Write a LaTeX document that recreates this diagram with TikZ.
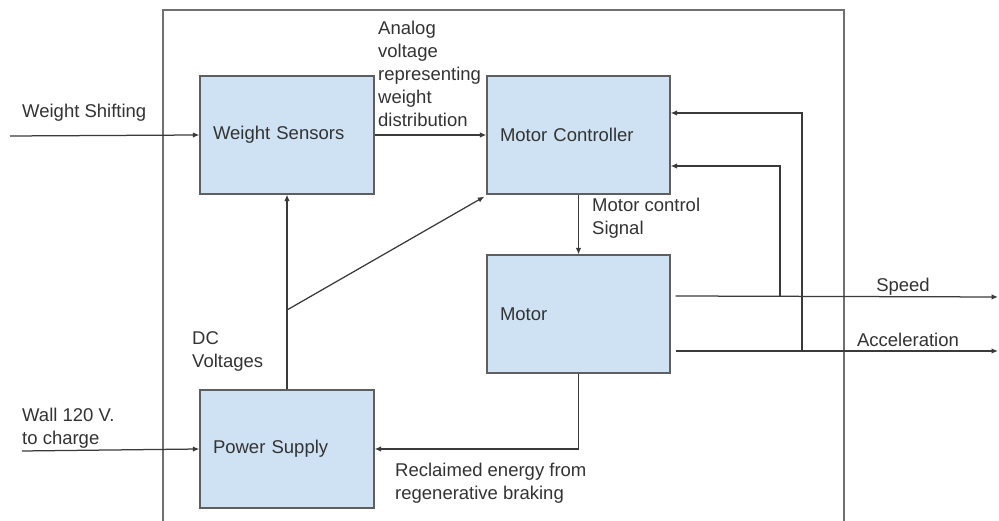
\documentclass[tikz,border=0pt]{standalone}
\usepackage{fontspec}
\setmainfont{Liberation Sans}
\usepackage{xcolor}
\usepackage{tikz}
\usetikzlibrary{arrows.meta, positioning, calc}
\definecolor{blockfill}{HTML}{CFE2F3}
\definecolor{blockdraw}{HTML}{5F5F5F}
\definecolor{linedark}{HTML}{3A3A3A}
\definecolor{textdark}{HTML}{333333}
\definecolor{framegray}{HTML}{707070}
\tikzset{
  block/.style={draw=blockdraw, fill=blockfill, line width=1.3pt, align=left,
                inner xsep=13pt, minimum height=118pt, text=textdark,
                font=\fontsize{18.5}{23}\selectfont},
  wideblock/.style={block, text width=157pt},
  narrowblock/.style={block, text width=148pt},
  flow/.style={-{Latex[length=6.5pt,width=5.5pt]}, line width=1.25pt, draw=linedark},
  lbl/.style={inner sep=0pt, align=left, text=textdark,
              font=\fontsize{18.5}{23}\selectfont},
}
\begin{document}
\begin{tikzpicture}[x=1pt, y=1pt]
  \useasboundingbox (0,0) rectangle (999,521);
  % outer frame, open at the bottom
  \draw[framegray, line width=1.5pt] (163,0) -- (163,511) -- (844,511) -- (844,0);

  \node[narrowblock] (ws) at (287,386) {Weight Sensors};
  \node[wideblock] (mc) at (578.5,386) {Motor Controller};
  \node[wideblock] (mo) at (578.5,207) {Motor};
  \node[narrowblock] (ps) at (287,72) {Power Supply};

  \coordinate (wsin) at (10,385);
  \coordinate (wallin) at (22,70);
  \coordinate (split) at (287,211);
  \coordinate (tapS) at (780,225);
  \coordinate (tapA) at (802,170);
  \coordinate (spdend) at (998,224);
  \coordinate (accend) at (998,170);

  \draw[flow] (wsin) -- (ws.west);
  \draw[flow] (wallin) -- (ps.west);
  \draw[flow] (ws.east) -- (mc.west);
  \draw[flow] (ps.north) -- (ws.south);
  \draw[flow] (split) -- ([xshift=-2pt,yshift=-2pt]mc.south west);
  \draw[flow] (mc.south) -- (mo.north);
  \draw[flow] (mo.south) |- (ps.east);
  \draw[flow] ([xshift=5pt]mo.east |- tapS) -- (spdend);
  \draw[flow] ([xshift=5pt]mo.east |- tapA) -- (accend);
  \draw[flow] (tapS) |- ([yshift=-31pt]mc.east);
  \draw[flow] (tapA) |- ([yshift=22pt]mc.east);

  \node[lbl, anchor=west] (shift) at (22,408) {Weight Shifting};
  \node[lbl, anchor=west] (analog) at (378,447)
    {Analog\\voltage\\representing\\weight\\distribution};
  \node[lbl, anchor=west] (ctrl) at (592,303) {Motor control\\Signal};
  \node[lbl, anchor=west] (dc) at (192,170) {DC\\Voltages};
  \node[lbl, anchor=west] (wall) at (22,93) {Wall 120 V.\\to charge};
  \node[lbl, anchor=west] (regen) at (395,38)
    {Reclaimed energy from\\regenerative braking};
  \node[lbl] (speed) at (903,234) {Speed};
  \node[lbl] (accel) at (908,181) {Acceleration};
\end{tikzpicture}
\end{document}
